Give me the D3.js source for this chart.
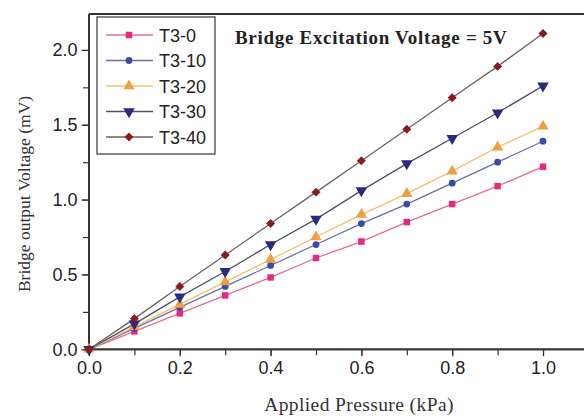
<!DOCTYPE html>
<html><head><meta charset="utf-8">
<script src="https://cdn.jsdelivr.net/npm/d3@7"></script>
<style>body{margin:0;background:#fff}svg{display:block}</style>
</head><body>
<script>
const pressure = [0, 0.1, 0.2, 0.3, 0.4, 0.5, 0.6, 0.7, 0.8, 0.9, 1.0];
const seriesNames = ["T3-0", "T3-10", "T3-20", "T3-30", "T3-40"];
const t3_0  = [0, 0.12, 0.24, 0.36, 0.48, 0.61, 0.72, 0.85, 0.97, 1.09, 1.22];
const t3_10 = [0, 0.14, 0.28, 0.42, 0.56, 0.70, 0.84, 0.97, 1.11, 1.25, 1.39];
const t3_20 = [0, 0.15, 0.30, 0.45, 0.60, 0.75, 0.90, 1.04, 1.19, 1.35, 1.49];
const t3_30 = [0, 0.17, 0.35, 0.52, 0.70, 0.87, 1.06, 1.24, 1.41, 1.58, 1.76];
const t3_40 = [0, 0.205, 0.42, 0.63, 0.84, 1.05, 1.26, 1.47, 1.68, 1.89, 2.11];
const xTicks = [0, 0.2, 0.4, 0.6, 0.8, 1.0];
const yTicks = [0, 0.5, 1.0, 1.5, 2.0];
const xTitle = "Applied Pressure (kPa)";
const yTitle = "Bridge output Voltage (mV)";
const note = "Bridge Excitation Voltage = 5V";

const allValues = [t3_0, t3_10, t3_20, t3_30, t3_40];
const markerColors = ["#e8287e", "#3a4aa8", "#f0a040", "#2a2a80", "#8b1a1a"];
const lineColors = ["#e0709a", "#6a70a8", "#f0c070", "#50506a", "#706060"];
const shapes = ["square", "circle", "up", "down", "diamond"];

const W = 584, H = 416;
const svg = d3.select("body").append("svg").attr("width", W).attr("height", H);

const x = d3.scaleLinear().domain([0, 1.1]).range([89, 588.4]);
const y = d3.scaleLinear().domain([0, 2.24]).range([349.3, 14]);

const axisColor = "#333";
const sans = "Liberation Sans, Arial, sans-serif";
const serif = "Liberation Serif, Times New Roman, serif";

svg.append("line").attr("x1", x(0)).attr("x2", W).attr("y1", y(2.24)).attr("y2", y(2.24))
  .attr("stroke", axisColor).attr("stroke-width", 1.8);

const gx = svg.append("g").attr("transform", `translate(0,${y(0)})`);
gx.call(d3.axisBottom(x).tickValues(d3.range(0, 11).map(i => i / 10)).tickSize(6).tickFormat(""));
const gx2 = svg.append("g").attr("transform", `translate(0,${y(0)})`);
gx2.call(d3.axisBottom(x).tickValues(xTicks).tickSize(7).tickPadding(5).tickFormat(d3.format(".1f")));
[gx, gx2].forEach(g => {
  g.select(".domain").attr("stroke", axisColor).attr("stroke-width", 1.8).attr("d", `M${x(0)},0H${W}`);
  g.selectAll(".tick line").attr("stroke", axisColor).attr("stroke-width", 1.2);
});
gx2.selectAll(".tick text").attr("font-family", sans).attr("font-size", 18).attr("fill", "#222");

const gy = svg.append("g").attr("transform", `translate(${x(0)},0)`);
gy.call(d3.axisLeft(y).tickValues(d3.range(0, 9).map(i => i * 0.25)).tickSize(6).tickFormat(""));
const gy2 = svg.append("g").attr("transform", `translate(${x(0)},0)`);
gy2.call(d3.axisLeft(y).tickValues(yTicks).tickSize(7.5).tickPadding(4).tickFormat(d3.format(".1f")));
[gy, gy2].forEach(g => {
  g.select(".domain").attr("stroke", axisColor).attr("stroke-width", 1.8).attr("d", `M0,${y(0)}V${y(2.24)}`);
  g.selectAll(".tick line").attr("stroke", axisColor).attr("stroke-width", 1.2);
});
gy2.selectAll(".tick text").attr("font-family", sans).attr("font-size", 18).attr("fill", "#222");

function sym(i) {
  switch (shapes[i]) {
    case "square": return d3.symbol(d3.symbolSquare, 42)();
    case "circle": return d3.symbol(d3.symbolCircle, 36)();
    case "up": return d3.symbol(d3.symbolTriangle, 55)();
    case "down": return d3.symbol(d3.symbolTriangle, 58)();
    default: return d3.symbol(d3.symbolSquare, 40)();
  }
}
function rot(i) {
  if (shapes[i] === "down") return " rotate(180)";
  if (shapes[i] === "diamond") return " rotate(45)";
  return "";
}

const line = d3.line().x((d, j) => x(pressure[j])).y(d => y(d));
allValues.forEach((vals, i) => {
  svg.append("path").attr("d", line(vals)).attr("fill", "none")
    .attr("stroke", lineColors[i]).attr("stroke-width", 1.3);
});
allValues.forEach((vals, i) => {
  svg.append("g").selectAll("path").data(vals).join("path")
    .attr("d", sym(i))
    .attr("transform", (d, j) => `translate(${x(pressure[j])},${y(d)})${rot(i)}`)
    .attr("fill", markerColors[i]);
});

const lg = svg.append("g");
lg.append("rect").attr("x", 97).attr("y", 17).attr("width", 118).attr("height", 137)
  .attr("fill", "#fff").attr("stroke", "#444").attr("stroke-width", 1.3);
seriesNames.forEach((name, i) => {
  const ly = 35 + i * 25.5;
  lg.append("line").attr("x1", 106).attr("x2", 153).attr("y1", ly).attr("y2", ly)
    .attr("stroke", lineColors[i]).attr("stroke-width", 1.3);
  lg.append("path").attr("d", sym(i)).attr("transform", `translate(129,${ly})${rot(i)}`)
    .attr("fill", markerColors[i]);
  lg.append("text").attr("x", 159).attr("y", ly + 6.5).text(name)
    .attr("font-family", sans).attr("font-size", 18).attr("fill", "#222");
});

svg.append("text").attr("x", 235).attr("y", 44).text(note)
  .attr("font-family", serif).attr("font-weight", "bold").attr("letter-spacing", 0.7)
  .attr("font-size", 19).attr("fill", "#222");

svg.append("text").attr("x", 359).attr("y", 411).attr("text-anchor", "middle").text(xTitle)
  .attr("font-family", serif).attr("font-size", 19.5).attr("letter-spacing", 0.4).attr("fill", "#333");
svg.append("text").attr("transform", "translate(30,194) rotate(-90)").attr("text-anchor", "middle").text(yTitle)
  .attr("font-family", serif).attr("font-size", 17.5).attr("fill", "#333");
</script>
</body></html>
